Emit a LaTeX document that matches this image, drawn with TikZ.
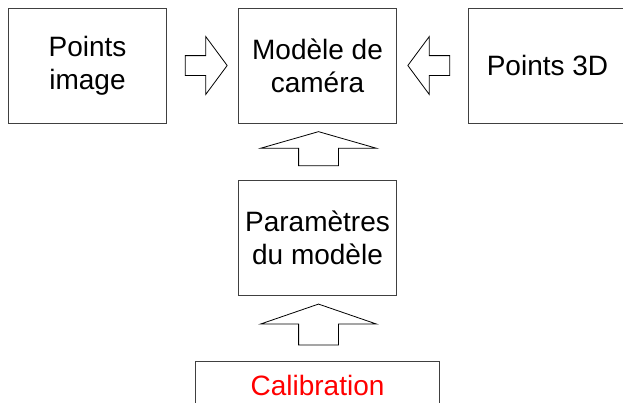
\documentclass[tikz,border=0pt]{standalone}
\usepackage{fontspec}
\setmainfont{Liberation Sans}
\usetikzlibrary{shapes.arrows, calc}

\begin{document}
\begin{tikzpicture}[x=1pt, y=-1pt, node distance=230pt]
	\tikzstyle{box} = [rectangle, minimum width=158pt, minimum height=115pt, align=center, draw=black!75, line width=1pt, font=\fontsize{28}{33}\selectfont]
	\tikzstyle{harrow} = [single arrow, draw=black, line width=0.8pt, inner xsep=0pt, inner ysep=9.5pt, single arrow head extend=19pt, single arrow tip angle=107, minimum height=42pt]
	\tikzstyle{varrow} = [single arrow, rotate=90, draw=black, line width=0.8pt, inner xsep=0pt, inner ysep=19.5pt, single arrow head extend=38pt, minimum height=34pt]
	\useasboundingbox (0,0) rectangle (623,402);
	\node (pointsImage) [box] at (87.5,65.5) {Points\\image};
	\node (camera) [box, right of=pointsImage] {Modèle de\\caméra};
	\node (points3D) [box, right of=camera] {Points 3D};
	\node (params) [box, below of=camera, yshift=58pt] {Paramètres\\du modèle};
	\node (calib) [box, minimum width=244pt, minimum height=48pt, text=red, below of=params, yshift=82.5pt] {Calibration};
	% block arrows between the boxes
	\node (imageToCamera) [harrow] at ($(pointsImage.east)!0.5!(camera.west)$) {};
	\node (pointsToCamera) [harrow, shape border rotate=180] at ($(points3D.west)!0.5!(camera.east)$) {};
	\node (paramsToCamera) [varrow, single arrow tip angle=148, yshift=-1pt] at ($(params.north)!0.5!(camera.south)$) {};
	\node (calibToParams) [varrow, single arrow tip angle=142, minimum height=41pt, yshift=-1pt] at ($(calib.north)!0.5!(params.south)$) {};
\end{tikzpicture}
\end{document}
